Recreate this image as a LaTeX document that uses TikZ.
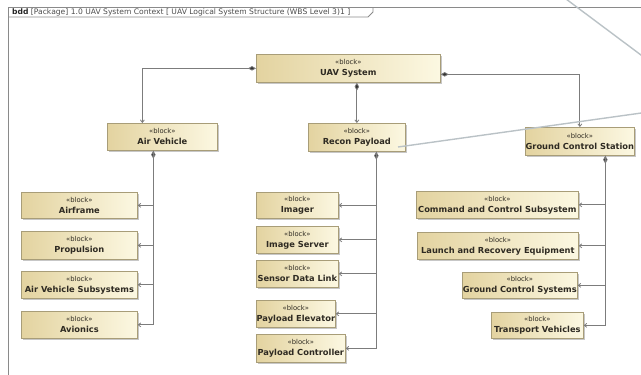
\documentclass[tikz,border=0pt]{standalone}
\usepackage{fontspec}
\setmainfont{DejaVu Sans}
\usetikzlibrary{arrows.meta,shadows}

\definecolor{blkleft}{HTML}{E3D3A0}
\definecolor{blkright}{HTML}{FCF8E2}
\definecolor{blkedge}{HTML}{A89D78}
\definecolor{connc}{HTML}{7C7C7C}
\definecolor{notec}{HTML}{BAC2C6}
\definecolor{ink}{HTML}{2E2A22}
\definecolor{framec}{HTML}{8A8A8A}

\newcommand{\stereo}{{\mdseries\fontsize{6.8}{11}\selectfont «block»}}

\tikzset{
  blk/.style={draw=blkedge, line width=0.7pt, left color=blkleft, right color=blkright,
    anchor=north west, inner sep=0pt, align=center, text=ink,
    font=\fontsize{8.3}{11}\selectfont\bfseries,
    drop shadow={shadow xshift=1.2pt, shadow yshift=-1.2pt, fill=black, opacity=0.22}},
  conn/.style={draw=connc, line width=0.8pt},
  part/.style={conn, -{Straight Barb[length=2.5pt,width=4pt]}},
  whole/.style={conn, {Diamond[length=8pt,width=4.5pt,fill=black!80]}-{Straight Barb[length=2.5pt,width=4pt]}},
  framel/.style={draw=framec, line width=0.8pt},
  noteline/.style={draw=notec, line width=1.4pt},
}

% block: name, left, top, width, height, title
\newcommand{\blkbox}[6]{\node[blk, minimum width=#4pt, minimum height=#5pt] (#1) at (#2,#3) {\stereo\\#6};}

\begin{document}
\begin{tikzpicture}[x=1pt, y=-1pt]
\useasboundingbox (0,0) rectangle (641,375);

% diagram frame and its name tab
\draw[framel] (650,7) -- (8,7) -- (8,385);
\draw[framel] (8,17) -- (368,17) -- (373,12) -- (373,7);
\node[anchor=west, inner sep=0pt, text=black!70, font=\fontsize{7.6}{8}\selectfont] (title) at (12,12.3)
  {\textbf{\color{black!85}bdd} [Package] 1.0 UAV System Context [ UAV Logical System Structure (WBS Level 3)1 ]};

% top level
\blkbox{uav}{256}{54}{184}{28}{UAV System}
\blkbox{av}{107}{123}{110}{27}{Air Vehicle}
\blkbox{rp}{308}{123}{97}{28}{Recon Payload}
\blkbox{gcs}{525}{127}{109}{28}{Ground Control Station}

% air vehicle parts
\blkbox{airframe}{21}{192}{116}{26}{Airframe}
\blkbox{propulsion}{21}{231}{116}{28}{Propulsion}
\blkbox{avsub}{21}{271}{116}{27}{Air Vehicle Subsystems}
\blkbox{avionics}{21}{311}{116}{27}{Avionics}

% payload parts
\blkbox{imager}{256}{192}{82}{26}{Imager}
\blkbox{imgsrv}{256}{226}{82}{27}{Image Server}
\blkbox{sdl}{256}{260}{82}{27}{Sensor Data Link}
\blkbox{pelev}{256}{300}{79}{27}{Payload Elevator}
\blkbox{pctrl}{256}{334}{89}{28}{Payload Controller}

% ground control station parts
\blkbox{cc}{416}{191}{162}{27}{Command and Control Subsystem}
\blkbox{lre}{417}{232}{161}{27}{Launch and Recovery Equipment}
\blkbox{gcsys}{462}{272}{115}{26}{Ground Control Systems}
\blkbox{tv}{491}{312}{92}{26}{Transport Vehicles}

% composition from the system block
\draw[whole] (uav.west) -| ([xshift=-20pt]av.north);
\draw[whole] (uav.south -| rp.north) -- (rp.north);
\draw[whole] ([yshift=-6pt]uav.east) -| (gcs.north);

% composition trunks
\coordinate (avt) at ([xshift=-9pt]av.south);
\coordinate (rpt) at ([xshift=19.5pt]rp.south);
\coordinate (gct) at ([xshift=25.5pt]gcs.south);

\draw[whole] (avt) |- (avionics.east);
\draw[part] (avt) |- (airframe.east);
\draw[part] (avt) |- (propulsion.east);
\draw[part] (avt) |- (avsub.east);

\draw[whole] (rpt) |- (pctrl.east);
\draw[part] (rpt) |- (imager.east);
\draw[part] (rpt) |- (imgsrv.east);
\draw[part] (rpt) |- (sdl.east);
\draw[part] (rpt) |- (pelev.east);

\draw[whole] (gct) |- (tv.east);
\draw[part] (gct) |- (cc.east);
\draw[part] (gct) |- (lre.east);
\draw[part] (gct) |- (gcsys.east);

% annotation leaders running off to the right
\coordinate (na) at (398,147);
\coordinate (nb) at (645,112.5);
\coordinate (nc) at (566,-1);
\coordinate (nd) at (645,58);
\draw[noteline] (na) -- (nb);
\draw[noteline] (nc) -- (nd);
\end{tikzpicture}
\end{document}
